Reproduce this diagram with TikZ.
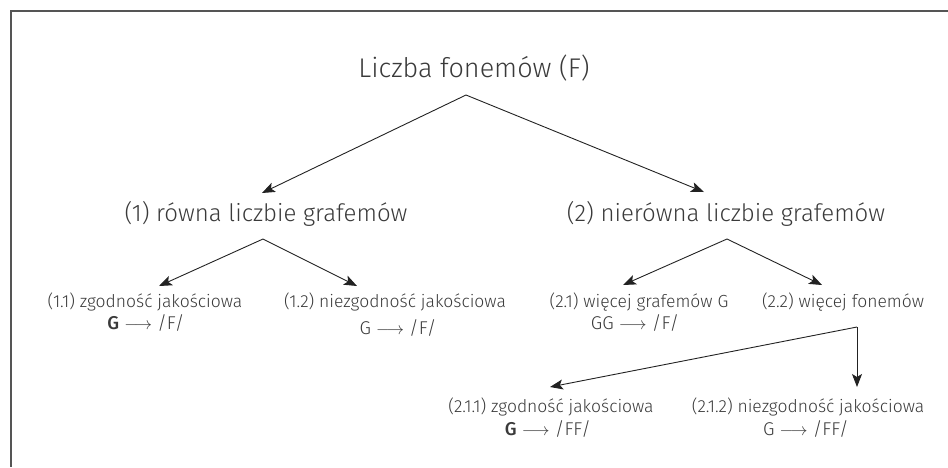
\documentclass[tikz,border=0pt]{standalone}
\usepackage{fontspec}
\setmainfont{Fira Sans Light}[BoldFont={Fira Sans Medium}]
\usetikzlibrary{arrows.meta}
\definecolor{txt}{HTML}{3A3A3A}
\definecolor{ln}{HTML}{222222}
\definecolor{frm}{HTML}{555555}
\tikzset{
  lbl/.style={inner sep=0pt, text=txt, anchor=center},
  ttl/.style={lbl, font=\fontsize{27}{31}\selectfont},
  lvtwo/.style={lbl, font=\fontsize{24}{28}\selectfont},
  lvthree/.style={lbl, font=\fontsize{17.5}{21}\selectfont},
  formula/.style={lbl, font=\fontsize{18.5}{22}\selectfont},
  arr/.style={draw=ln, line width=0.9pt, -{Stealth[length=13pt, width=10pt, inset=3pt]}},
  frameline/.style={draw=frm, line width=1.3pt}
}
\newcommand{\rarr}{$\longrightarrow$}
\begin{document}
\begin{tikzpicture}[x=1pt,y=-1pt]
\useasboundingbox (0,0) rectangle (948,467);
% frame
\coordinate (fa) at (948,11);
\coordinate (fb) at (11,11);
\coordinate (fc) at (11,467);
\draw[frameline] (fa) -- (fb) -- (fc);
% texts
\node[ttl] (t) at (474,68) {Liczba fonemów (F)};
\node[lvtwo] (n1) at (266,214) {(1) równa liczbie grafemów};
\node[lvtwo] (n2) at (726,214) {(2) nierówna liczbie grafemów};
\node[lvthree] (n11) at (145,302) {(1.1) zgodność jakościowa};
\node[formula] (n11f) at (146,323) {\textbf{G} \rarr{} /F/};
\node[lvthree] (n12) at (395,302) {(1.2) niezgodność jakościowa};
\node[formula] (n12f) at (398,328) {G \rarr{} /F/};
\node[lvthree] (n21) at (639,302) {(2.1) więcej grafemów G};
\node[formula] (n21f) at (635,323) {GG \rarr{} /F/};
\node[lvthree] (n22) at (843,302) {(2.2) więcej fonemów};
\node[lvthree] (n211) at (551,407) {(2.1.1) zgodność jakościowa};
\node[formula] (n211f) at (548,429) {\textbf{G} \rarr{} /FF/};
\node[lvthree] (n212) at (808,407) {(2.1.2) niezgodność jakościowa};
\node[formula] (n212f) at (806,429) {G \rarr{} /FF/};
% connector points
\coordinate (t0) at (466,95);
\coordinate (t1) at (262,193);
\coordinate (t2) at (704,192);
\coordinate (a0) at (263,239);
\coordinate (a1) at (159,286);
\coordinate (a2) at (357,286);
\coordinate (b0) at (727,239);
\coordinate (b1) at (623,285);
\coordinate (b2) at (822,285);
\coordinate (c0) at (857,327);
\coordinate (c1) at (550,387);
\coordinate (c2) at (857,387);
% connectors
\draw[arr] (t0) -- (t1);
\draw[arr] (t0) -- (t2);
\draw[arr] (a0) -- (a1);
\draw[arr] (a0) -- (a2);
\draw[arr] (b0) -- (b1);
\draw[arr] (b0) -- (b2);
\draw[arr] (c0) -- (c1);
\draw[arr] (c0) -- (c2);
\end{tikzpicture}
\end{document}
